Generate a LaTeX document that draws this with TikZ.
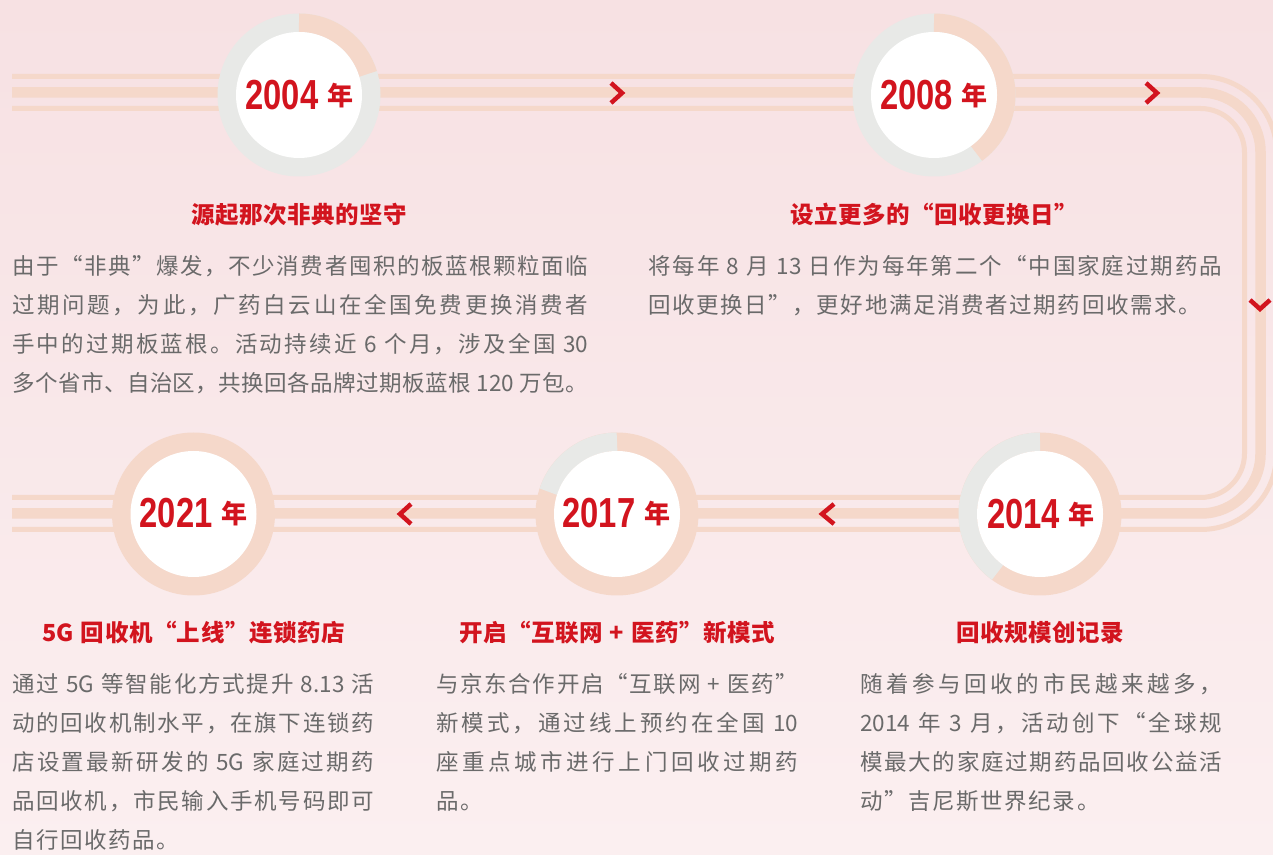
\documentclass[tikz,border=0pt]{standalone}
\usepackage{fontspec}
\usepackage{graphicx}
\setmainfont{Noto Sans CJK SC}
\newfontfamily\yearfont{Liberation Sans}

\definecolor{bgtop}{HTML}{F7E1E3}
\definecolor{bgbot}{HTML}{FBEFF0}
\definecolor{peach}{HTML}{F5D8CA}
\definecolor{ringgray}{HTML}{E8E9E7}
\definecolor{accent}{HTML}{D2141E}
\definecolor{txtgray}{HTML}{6A6A6A}

% inter-character glue for CJK text (allows justified lines)
\XeTeXinterchartokenstate=1
\newcount\cjkc
\cjkc="4E00
\loop \XeTeXcharclass\cjkc=1 \advance\cjkc by 1 \ifnum\cjkc<"A000 \repeat
\XeTeXcharclass"201C=1 \XeTeXcharclass"201D=1 \XeTeXcharclass"FF0C=1
\XeTeXcharclass"3002=1 \XeTeXcharclass"3001=1
\newdimen\cjkgap \cjkgap=1.6pt
\XeTeXinterchartoks 1 1 = {\hskip\cjkgap plus 4pt minus 1.6pt\relax}

\newcommand\bodyfont{\fontsize{22.5}{39}\selectfont\spaceskip=7pt plus 4pt minus 2pt\relax}
\newcommand\titlefont{\bfseries\fontsize{23.5}{28}\selectfont\cjkgap=0.5pt\spaceskip=7pt plus 2pt minus 1pt\relax}
\newcommand\yearlabel[1]{\scalebox{0.78}[1]{\yearfont\bfseries\fontsize{42}{42}\selectfont #1}\hspace{9pt}\raisebox{4.5pt}{\bfseries\fontsize{26}{26}\selectfont 年}}
\newcommand\jline[2]{\hbox to #1{#2}}

\tikzset{
  trackthin/.style={draw=peach, line width=5pt},
  trackthick/.style={draw=peach, line width=10.5pt},
  chev/.style={draw=accent, line width=4.5pt, line join=miter, miter limit=10},
  disc/.style={circle, fill=white, minimum size=126pt, inner sep=0pt},
  yearlbl/.style={inner sep=0pt, text=accent, anchor=base},
  heading/.style={inner sep=0pt, text=accent, anchor=base, font=\titlefont},
  bodytext/.style={inner sep=0pt, text=txtgray, anchor=base west, font=\bodyfont},
}

\begin{document}
\begin{tikzpicture}[x=1pt,y=1pt]
\useasboundingbox (0,0) rectangle (1273,854);
\clip (0,0) rectangle (1273,854);
\shade[top color=bgtop, bottom color=bgbot] (0,0) rectangle (1273,854);

% track
\draw[trackthin, rounded corners=44pt] (12,745.5) -| (1244.5,356.5) -- (12,356.5);
\draw[trackthick, rounded corners=59.5pt] (12,761.5) -| (1260.5,340.5) -- (12,340.5);
\draw[trackthin, rounded corners=75.5pt] (12,777.5) -| (1276.5,324.5) -- (12,324.5);

% chevrons
\draw[chev] (611,771) -- (622,761) -- (611,751);
\draw[chev] (1146,771) -- (1157,761) -- (1146,751);
\draw[chev] (1250,554) -- (1260,545) -- (1270,554);
\draw[chev] (834,350) -- (822,340) -- (834,330);
\draw[chev] (411,350) -- (400,340) -- (411,330);

% rings
\fill[ringgray] (299,759) circle[radius=81.5pt];
\draw[peach, line width=18.5pt] (299,759) ++(17:72.25pt) arc[start angle=17, end angle=90, radius=72.25pt];
\fill[ringgray] (934,759) circle[radius=81.5pt];
\draw[peach, line width=18.5pt] (934,759) ++(-54:72.25pt) arc[start angle=-54, end angle=90, radius=72.25pt];
\fill[peach] (1040,340) circle[radius=81.5pt];
\draw[ringgray, line width=18.5pt] (1040,340) ++(90:72.25pt) arc[start angle=90, end angle=234, radius=72.25pt];
\fill[peach] (617,340) circle[radius=81.5pt];
\draw[ringgray, line width=18.5pt] (617,340) ++(90:72.25pt) arc[start angle=90, end angle=162, radius=72.25pt];
\fill[peach] (193.5,340) circle[radius=81.5pt];

% discs
\node[disc] (c2004) at (299,759) {};
\node[disc] (c2008) at (934,759) {};
\node[disc] (c2014) at (1040,340) {};
\node[disc] (c2017) at (617,340) {};
\node[disc] (c2021) at (193.5,340) {};

% year labels
\node[yearlbl] (l2004) at (299.5,744) {\yearlabel{2004}};
\node[yearlbl] (l2008) at (934,744) {\yearlabel{2008}};
\node[yearlbl] (l2014) at (1041,325) {\yearlabel{2014}};
\node[yearlbl] (l2017) at (616.5,326) {\yearlabel{2017}};
\node[yearlbl] (l2021) at (193.7,326) {\yearlabel{2021}};

% headings
\node[heading] (h2004) at (299.5,630) {源起那次非典的坚守};
\node[heading] (h2008) at (934,630) {设立更多的“回收更换日”};
\node[heading] (h2021) at (193.5,212) {5G 回收机“上线”连锁药店};
\node[heading] (h2017) at (617,212) {开启“互联网 + 医药”新模式};
\node[heading] (h2014) at (1040,212) {回收规模创记录};

% body texts
\node[bodytext] (b2004) at (12,579.4) {\vtop{%
\jline{576pt}{由于“非典”爆发，不少消费者囤积的板蓝根颗粒面临}%
\jline{576pt}{过期问题，为此，广药白云山在全国免费更换消费者}%
\jline{576pt}{手中的过期板蓝根。活动持续近 6 个月，涉及全国 30}%
\jline{576pt}{多个省市、自治区，共换回各品牌过期板蓝根 120 万包。}}};

\node[bodytext] (b2008) at (648,579.4) {\vtop{%
\jline{574pt}{将每年 8 月 13 日作为每年第二个“中国家庭过期药品}%
\hbox{回收更换日”，更好地满足消费者过期药回收需求。}}};

\node[bodytext] (b2021) at (12,161.5) {\vtop{%
\jline{362pt}{通过 5G 等智能化方式提升 8.13 活}%
\jline{362pt}{动的回收机制水平，在旗下连锁药}%
\jline{362pt}{店设置最新研发的 5G 家庭过期药}%
\jline{362pt}{品回收机，市民输入手机号码即可}%
\hbox{自行回收药品。}}};

\node[bodytext] (b2017) at (436,161.5) {\vtop{%
\jline{362pt}{与京东合作开启“互联网 + 医药”}%
\jline{362pt}{新模式，通过线上预约在全国 10}%
\jline{362pt}{座重点城市进行上门回收过期药}%
\hbox{品。}}};

\node[bodytext] (b2014) at (860,161.5) {\vtop{%
\jline{362pt}{随着参与回收的市民越来越多，}%
\jline{362pt}{2014 年 3 月，活动创下“全球规}%
\jline{362pt}{模最大的家庭过期药品回收公益活}%
\hbox{动”吉尼斯世界纪录。}}};
\end{tikzpicture}
\end{document}
